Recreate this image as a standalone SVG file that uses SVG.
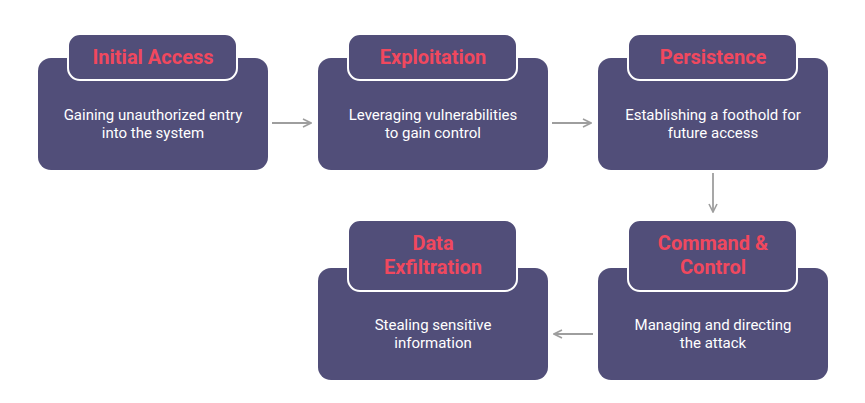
<svg xmlns="http://www.w3.org/2000/svg" width="865" height="403" viewBox="0 0 865 403">
<defs>
<marker id="ah" viewBox="0 0 10 10" refX="9" refY="5" markerWidth="10" markerHeight="10" markerUnits="userSpaceOnUse" orient="auto">
<path d="M1,1 L9,5 L1,9" fill="none" stroke="#9e9e9e" stroke-width="1.6"/>
</marker>
<style>
.box{fill:#514e79}
.tab{fill:#514e79;stroke:#ffffff;stroke-width:2}
.title{font-family:Roboto,"Liberation Sans",sans-serif;font-size:20px;font-weight:700;fill:#f0485e;text-anchor:middle}
.desc{font-family:Roboto,"Liberation Sans",sans-serif;font-size:15px;fill:#ffffff;text-anchor:middle}
.conn{stroke:#9e9e9e;stroke-width:1.8;fill:none;marker-end:url(#ah)}
</style>
</defs>
<rect width="865" height="403" fill="#ffffff"/>
<g id="connectors">
<line class="conn" x1="272" y1="123" x2="311" y2="123"/>
<line class="conn" x1="552" y1="123" x2="591" y2="123"/>
<line class="conn" x1="713" y1="173" x2="713" y2="212"/>
<line class="conn" x1="593" y1="334" x2="554" y2="334"/>
</g>
<g id="initial-access">
<rect class="box" x="38" y="58" width="230" height="112" rx="13"/>
<rect class="tab" x="68" y="34" width="169" height="46" rx="12"/>
<text class="title" x="153" y="64">Initial Access</text>
<text class="desc" x="153" y="120">Gaining unauthorized entry</text>
<text class="desc" x="153" y="138">into the system</text>
</g>
<g id="exploitation">
<rect class="box" x="318" y="58" width="230" height="112" rx="13"/>
<rect class="tab" x="348" y="34" width="169" height="46" rx="12"/>
<text class="title" x="433" y="64">Exploitation</text>
<text class="desc" x="433" y="120">Leveraging vulnerabilities</text>
<text class="desc" x="433" y="138">to gain control</text>
</g>
<g id="persistence">
<rect class="box" x="598" y="58" width="230" height="112" rx="13"/>
<rect class="tab" x="628" y="34" width="169" height="46" rx="12"/>
<text class="title" x="713" y="64">Persistence</text>
<text class="desc" x="713" y="120">Establishing a foothold for</text>
<text class="desc" x="713" y="138">future access</text>
</g>
<g id="command-control">
<rect class="box" x="598" y="268" width="230" height="112" rx="13"/>
<rect class="tab" x="628" y="220" width="169" height="71" rx="12"/>
<text class="title" x="713" y="250">Command &amp;</text>
<text class="title" x="713" y="274">Control</text>
<text class="desc" x="713" y="330">Managing and directing</text>
<text class="desc" x="713" y="348">the attack</text>
</g>
<g id="data-exfiltration">
<rect class="box" x="318" y="268" width="230" height="112" rx="13"/>
<rect class="tab" x="348" y="220" width="169" height="71" rx="12"/>
<text class="title" x="433" y="250">Data</text>
<text class="title" x="433" y="274">Exfiltration</text>
<text class="desc" x="433" y="330">Stealing sensitive</text>
<text class="desc" x="433" y="348">information</text>
</g>
</svg>
